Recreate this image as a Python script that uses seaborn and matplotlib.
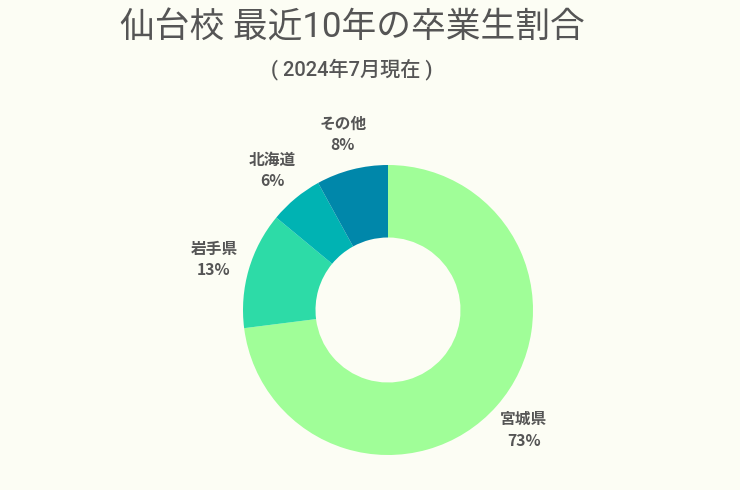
import matplotlib
matplotlib.use("Agg")
import matplotlib.pyplot as plt
import seaborn as sns
import numpy as np

labels = ['宮城県', '岩手県', '北海道', 'その他']
shares = [73, 13, 6, 8]
colors = ['#a0fe98', '#2ddba7', '#00b3b3', '#0087aa']

sns.set_theme(style='white')
plt.rcParams['font.family'] = ['Noto Sans CJK JP', 'DejaVu Sans']
bg = '#fcfdf4'
txt = '#555555'

fig = plt.figure(figsize=(7.4, 4.9), dpi=100, facecolor=bg)
# pie radius 1 -> 145 px, centre at (388, 310) from top-left
ax = fig.add_axes([156 / 740, 6 / 490, 464 / 740, 406 / 490])
ax.set_facecolor(bg)
wedges, _ = ax.pie(shares, colors=colors, startangle=90, counterclock=False,
                   radius=1.0, wedgeprops=dict(width=0.5, edgecolor='none'))
ax.set_xlim(-1.6, 1.6)
ax.set_ylim(-1.2, 1.6)
ax.set_aspect('equal')
ax.axis('off')

for w, lab, v in zip(wedges, labels, shares):
    ang = np.deg2rad((w.theta1 + w.theta2) / 2)
    x, y = 1.25 * np.cos(ang), 1.25 * np.sin(ang)
    ax.text(x, y, f'{lab}\n{v}%', ha='center', va='center', fontsize=11.3,
            fontweight='bold', color=txt, linespacing=1.45)

latin = ['Roboto', 'Noto Sans CJK JP', 'DejaVu Sans']
fig.text(352 / 740, 1 - 28 / 490, '仙台校 最近10年の卒業生割合', ha='center', va='center',
         fontsize=25, color=txt, family=latin)
fig.text(352 / 740, 1 - 69 / 490, '( 2024年7月現在 )', ha='center', va='center',
         fontsize=14.5, color=txt, family=latin, fontweight='medium')

fig.savefig('out.png', dpi=100, facecolor=bg)
